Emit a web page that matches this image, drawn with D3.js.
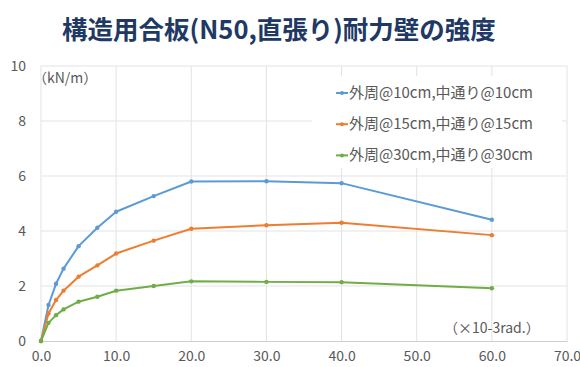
<!DOCTYPE html>
<html>
<head>
<meta charset="utf-8">
<script src="https://cdn.jsdelivr.net/npm/d3@7"></script>
<style>
  body { margin: 0; background: #fff; }
  svg { display: block; font-family: "Noto Sans CJK JP", "Noto Sans", sans-serif; }
</style>
</head>
<body>
<svg id="chart" width="580" height="367"></svg>
<script>
// データ（×10^-3 rad, kN/m）
const xValues = [0, 1, 2, 3, 5, 7.5, 10, 15, 20, 30, 40, 60];
const series10 = [0, 1.31, 2.08, 2.63, 3.45, 4.12, 4.70, 5.27, 5.80, 5.81, 5.74, 4.41];
const series15 = [0, 1.00, 1.49, 1.83, 2.34, 2.75, 3.18, 3.65, 4.08, 4.21, 4.30, 3.85];
const series30 = [0, 0.66, 0.94, 1.15, 1.43, 1.61, 1.83, 2.00, 2.17, 2.15, 2.14, 1.92];
const seriesNames = ["外周@10cm,中通り@10cm", "外周@15cm,中通り@15cm", "外周@30cm,中通り@30cm"];
const seriesColors = ["#5b9bd5", "#ed7d31", "#70ad47"];
const xTicks = [0, 10, 20, 30, 40, 50, 60, 70];
const yTicks = [0, 2, 4, 6, 8, 10];

const title = "構造用合板(N50,直張り)耐力壁の強度";

const svg = d3.select("#chart");

// スケール
const x = d3.scaleLinear().domain([0, 70]).range([41, 567]);
const y = d3.scaleLinear().domain([0, 10]).range([341, 66]);

// タイトル
svg.append("text")
  .attr("x", 279).attr("y", 39)
  .attr("text-anchor", "middle")
  .attr("font-size", 25.5).attr("font-weight", "bold")
  .attr("fill", "#203864")
  .text(title);

// グリッド
svg.append("g").selectAll("line").data(yTicks.filter(d => d > 0)).join("line")
  .attr("x1", x(0)).attr("x2", x(70))
  .attr("y1", d => y(d)).attr("y2", d => y(d))
  .attr("stroke", "#e3e3e3").attr("stroke-width", 1);
svg.append("g").selectAll("line").data(xTicks).join("line")
  .attr("x1", d => x(d)).attr("x2", d => x(d))
  .attr("y1", y(0)).attr("y2", y(10))
  .attr("stroke", "#e3e3e3").attr("stroke-width", 1);

// X軸
const xAxis = svg.append("g")
  .attr("transform", `translate(0,${y(0)})`)
  .call(d3.axisBottom(x).tickValues(xTicks).tickFormat(d3.format(".1f")).tickSize(0).tickPadding(10));
xAxis.select(".domain").attr("stroke", "#d0d0d0");
xAxis.selectAll("text").attr("font-size", 14).attr("fill", "#595959")
  .attr("font-family", "'Noto Sans CJK JP', sans-serif");

// Y軸
const yAxis = svg.append("g")
  .attr("transform", `translate(26,0)`)
  .call(d3.axisLeft(y).tickValues(yTicks).tickSize(0).tickPadding(0));
yAxis.select(".domain").remove();
yAxis.selectAll("text").attr("font-size", 14).attr("fill", "#595959")
  .attr("font-family", "'Noto Sans CJK JP', sans-serif");

// 単位ラベル
svg.append("text").attr("x", 33).attr("y", 83)
  .attr("font-size", 14).attr("fill", "#595959")
  .text("（kN/m）");
svg.append("text").attr("x", 444).attr("y", 333)
  .attr("font-size", 14).attr("fill", "#595959")
  .text("（×10-3rad.）");

// 系列
const allSeries = [series10, series15, series30];
const line = d3.line().x((d, i) => x(xValues[i])).y(d => y(d));

allSeries.forEach((vals, k) => {
  const g = svg.append("g");
  g.append("path").datum(vals)
    .attr("d", line)
    .attr("fill", "none")
    .attr("stroke", seriesColors[k])
    .attr("stroke-width", 2)
    .attr("stroke-linejoin", "round");
  g.selectAll("circle").data(vals).join("circle")
    .attr("cx", (d, i) => x(xValues[i]))
    .attr("cy", d => y(d))
    .attr("r", 2.2)
    .attr("fill", seriesColors[k]);
});

// 凡例
const legend = svg.append("g");
legend.append("rect")
  .attr("x", 312).attr("y", 76).attr("width", 250).attr("height", 92)
  .attr("fill", "#fff");
seriesNames.forEach((name, k) => {
  const ly = 93 + k * 31.2;
  legend.append("line")
    .attr("x1", 336).attr("x2", 348).attr("y1", ly).attr("y2", ly)
    .attr("stroke", seriesColors[k]).attr("stroke-width", 2);
  legend.append("circle").attr("cx", 342).attr("cy", ly).attr("r", 2)
    .attr("fill", seriesColors[k]);
  legend.append("text")
    .attr("x", 349).attr("y", ly + 5)
    .attr("font-size", 15).attr("fill", "#595959")
    .text(name);
});
</script>
</body>
</html>
